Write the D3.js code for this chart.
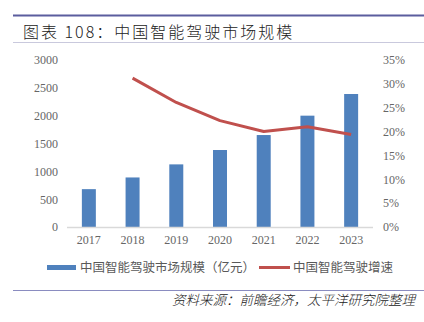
<!DOCTYPE html>
<meta charset="utf-8">
<style>
body { margin: 0; background: #fff; }
svg { display: block; }
</style>
<body>
<script src="https://d3js.org/d3.v7.min.js"></script>
<script>
var years = ["2017", "2018", "2019", "2020", "2021", "2022", "2023"];
var marketSize = [680, 890, 1125, 1383, 1652, 2000, 2389];
var growth = [null, 0.312, 0.261, 0.223, 0.200, 0.210, 0.194];
var leftTicks = [0, 500, 1000, 1500, 2000, 2500, 3000];
var rightTicks = [0, 0.05, 0.10, 0.15, 0.20, 0.25, 0.30, 0.35];

var width = 424, height = 322;
var svg = d3.select("body").append("svg")
    .attr("width", width)
    .attr("height", height);

var cjk = "'Noto Sans CJK SC', sans-serif";
var serif = "'Liberation Serif', 'DejaVu Serif', serif";

// title block
svg.append("line").attr("x1", 13).attr("x2", 424).attr("y1", 15.5).attr("y2", 15.5)
    .attr("stroke", "#5b5d9e").attr("stroke-width", 2);
svg.append("text")
    .attr("x", 23).attr("y", 38)
    .attr("font-family", cjk).attr("font-size", 16).attr("font-weight", 300)
    .attr("letter-spacing", 2)
    .attr("fill", "#222")
    .text("图表 108：中国智能驾驶市场规模");
svg.append("line").attr("x1", 13).attr("x2", 424).attr("y1", 42.5).attr("y2", 42.5)
    .attr("stroke", "#c9c9dd").attr("stroke-width", 1);

var x = d3.scaleBand().domain(years).range([67, 373]).paddingInner(0.68).paddingOuter(0.34);
var y = d3.scaleLinear().domain([0, 3000]).range([227, 60]);
var y2 = d3.scaleLinear().domain([0, 0.35]).range([227, 60]);

// bars
svg.selectAll("rect.bar").data(marketSize).enter().append("rect")
    .attr("class", "bar")
    .attr("x", function(d, i) { return x(years[i]); })
    .attr("width", x.bandwidth())
    .attr("y", function(d) { return y(d); })
    .attr("height", function(d) { return y(0) - y(d); })
    .attr("fill", "#4f81bd");

// baseline
svg.append("line").attr("x1", 67).attr("x2", 373).attr("y1", y(0) + 0.5).attr("y2", y(0) + 0.5)
    .attr("stroke", "#d9d9d9").attr("stroke-width", 1.5);

// growth line
var line = d3.line()
    .defined(function(d) { return d != null; })
    .x(function(d, i) { return x(years[i]) + x.bandwidth() / 2; })
    .y(function(d) { return y2(d); });
svg.append("path").datum(growth)
    .attr("d", line)
    .attr("fill", "none")
    .attr("stroke", "#c0504d")
    .attr("stroke-width", 3)
    .attr("stroke-linejoin", "round");

// axes
var leftAxis = svg.append("g")
    .attr("transform", "translate(58,0)")
    .call(d3.axisLeft(y).tickValues(leftTicks).tickSize(0).tickPadding(0)
        .tickFormat(d3.format("d")));
var rightAxis = svg.append("g")
    .attr("transform", "translate(383,0)")
    .call(d3.axisRight(y2).tickValues(rightTicks).tickSize(0).tickPadding(0)
        .tickFormat(d3.format(".0%")));
var bottomAxis = svg.append("g")
    .attr("transform", "translate(0," + (y(0) + 4) + ")")
    .call(d3.axisBottom(x).tickSize(0).tickPadding(4));
[leftAxis, rightAxis, bottomAxis].forEach(function(g) {
  g.select(".domain").remove();
  g.selectAll("text")
      .attr("font-family", serif)
      .attr("font-size", 12)
      .attr("fill", "#666");
});

// legend
svg.append("rect").attr("x", 47).attr("y", 265).attr("width", 29).attr("height", 5)
    .attr("fill", "#4f81bd");
svg.append("text").attr("x", 80).attr("y", 272)
    .attr("font-family", cjk).attr("font-size", 12.5).attr("fill", "#595959")
    .text("中国智能驾驶市场规模（亿元）");
svg.append("line").attr("x1", 259).attr("x2", 290).attr("y1", 267.5).attr("y2", 267.5)
    .attr("stroke", "#c0504d").attr("stroke-width", 3);
svg.append("text").attr("x", 293).attr("y", 272)
    .attr("font-family", cjk).attr("font-size", 12.5).attr("fill", "#595959")
    .text("中国智能驾驶增速");

// source
svg.append("line").attr("x1", 13).attr("x2", 424).attr("y1", 290.5).attr("y2", 290.5)
    .attr("stroke", "#8a8cc0").attr("stroke-width", 1);
svg.append("text").attr("x", 415).attr("y", 305)
    .attr("text-anchor", "end")
    .attr("font-family", cjk).attr("font-size", 13.5).attr("font-style", "italic")
    .attr("font-weight", 300)
    .attr("fill", "#222")
    .text("资料来源：前瞻经济，太平洋研究院整理");
</script>
</body>
